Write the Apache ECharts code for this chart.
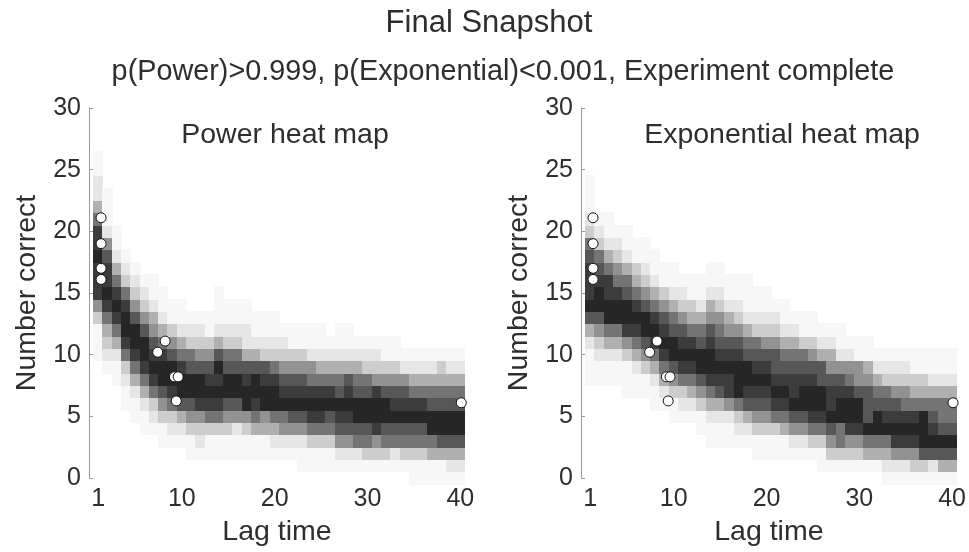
<!DOCTYPE html>
<html>
<head>
<meta charset="utf-8">
<title>Final Snapshot</title>
<script src="https://cdn.jsdelivr.net/npm/echarts@6/dist/echarts.min.js"></script>
<style>
  html, body { margin: 0; padding: 0; background: #fff; }
  #chart { width: 969px; height: 552px; }
</style>
</head>
<body>
<div id="chart"></div>
<script>
// x axis tick labels (lag time)
const lagTicks = [1, 10, 20, 30, 40]
// one entry per lag (1..40): [lowest "number correct" row, then darkness 0-9 going up]
const powerCols = [
  [10, 1, 1, 1, 3, 5, 8, 8, 8, 9, 8, 8, 6, 4, 2, 2, 1, 1],
  [9, 1, 2, 3, 4, 6, 8, 9, 8, 8, 7, 5, 2, 1, 1, 1],
  [8, 1, 1, 2, 4, 6, 8, 9, 8, 6, 4, 2, 1, 1],
  [6, 1, 1, 2, 3, 6, 8, 9, 9, 8, 6, 3, 2, 1],
  [5, 1, 1, 2, 4, 6, 8, 9, 9, 7, 5, 3, 2, 1],
  [4, 1, 1, 2, 4, 6, 8, 9, 9, 7, 5, 3, 2, 1],
  [4, 1, 2, 3, 6, 8, 9, 8, 7, 5, 4, 2, 1, 1],
  [3, 1, 1, 3, 5, 7, 9, 9, 8, 6, 4, 2, 1, 1],
  [3, 1, 2, 3, 6, 8, 9, 9, 7, 5, 3, 1, 1],
  [3, 1, 2, 4, 7, 9, 9, 8, 6, 4, 2, 1, 1],
  [2, 1, 1, 3, 5, 7, 9, 9, 7, 6, 3, 2, 1],
  [2, 1, 2, 3, 5, 8, 9, 9, 7, 5, 3, 2, 1],
  [2, 1, 1, 3, 6, 8, 9, 8, 7, 5, 3, 1, 1],
  [2, 1, 1, 3, 6, 8, 9, 8, 9, 7, 4, 2, 1, 1, 1],
  [2, 1, 1, 3, 5, 7, 9, 9, 7, 6, 3, 2, 1, 1],
  [2, 1, 1, 2, 5, 7, 9, 9, 7, 6, 3, 2, 1, 1],
  [2, 1, 1, 3, 5, 9, 9, 8, 7, 4, 2, 2, 1, 1],
  [2, 1, 1, 4, 6, 8, 9, 9, 7, 4, 2, 1, 1],
  [2, 1, 1, 4, 5, 9, 9, 8, 7, 3, 2, 1, 1],
  [2, 1, 2, 4, 6, 9, 9, 8, 6, 3, 2, 1, 1],
  [2, 1, 2, 5, 6, 9, 8, 7, 5, 3, 2, 1],
  [2, 1, 2, 5, 7, 9, 8, 7, 5, 3, 1, 1],
  [1, 1, 1, 2, 5, 7, 9, 8, 7, 5, 3, 1, 1],
  [1, 1, 1, 3, 6, 8, 9, 8, 6, 5, 2, 1, 1],
  [1, 1, 1, 3, 6, 8, 9, 8, 6, 4, 2, 1, 1],
  [1, 1, 1, 3, 6, 7, 9, 8, 6, 4, 2, 1],
  [1, 1, 2, 5, 7, 8, 9, 7, 6, 4, 2, 1, 1],
  [1, 1, 2, 5, 7, 8, 9, 8, 7, 4, 2, 1, 1],
  [1, 1, 2, 6, 7, 9, 9, 7, 6, 4, 2, 1],
  [1, 1, 3, 6, 7, 9, 9, 7, 6, 3, 2, 1],
  [1, 1, 3, 5, 8, 9, 9, 8, 5, 3, 2, 1],
  [1, 1, 3, 6, 7, 9, 9, 7, 5, 3, 1, 1],
  [1, 1, 2, 6, 7, 9, 8, 7, 5, 3, 1, 1],
  [1, 1, 3, 6, 7, 9, 8, 7, 5, 2, 1],
  [0, 1, 1, 3, 6, 7, 9, 8, 6, 4, 2, 1],
  [0, 1, 1, 3, 6, 7, 9, 8, 6, 4, 2, 1],
  [0, 1, 1, 4, 6, 9, 9, 7, 6, 4, 2, 1],
  [0, 1, 1, 4, 7, 9, 9, 7, 6, 4, 3, 1],
  [0, 1, 2, 4, 7, 9, 9, 7, 6, 4, 2, 1],
  [0, 1, 2, 4, 7, 9, 9, 7, 6, 4, 2, 1]
]
const expCols = [
  [8, 1, 1, 1, 2, 4, 7, 9, 8, 8, 8, 7, 6, 3, 2, 1, 1, 1],
  [8, 1, 1, 2, 3, 5, 7, 9, 9, 8, 7, 6, 3, 2, 1],
  [8, 1, 1, 2, 4, 6, 9, 9, 8, 8, 6, 4, 2, 1, 1],
  [8, 1, 1, 2, 4, 6, 9, 9, 8, 6, 5, 3, 2, 1],
  [7, 1, 1, 1, 3, 5, 8, 9, 9, 7, 6, 4, 2, 1, 1],
  [7, 1, 1, 2, 4, 6, 8, 9, 8, 6, 4, 3, 1, 1],
  [7, 1, 1, 3, 5, 7, 9, 9, 7, 5, 3, 2, 1, 1],
  [6, 1, 1, 2, 4, 6, 8, 9, 8, 6, 4, 2, 1, 1],
  [6, 1, 2, 4, 6, 8, 9, 8, 7, 5, 3, 1, 1],
  [5, 1, 1, 3, 5, 7, 9, 9, 7, 6, 4, 2, 1, 1],
  [5, 1, 2, 3, 6, 8, 9, 8, 7, 5, 3, 2, 1],
  [5, 1, 2, 4, 6, 8, 9, 8, 6, 4, 3, 1, 1],
  [4, 1, 1, 3, 5, 7, 9, 9, 7, 6, 4, 2, 1, 1],
  [3, 1, 1, 2, 4, 6, 8, 9, 9, 8, 7, 5, 4, 2, 1, 1],
  [3, 1, 1, 2, 4, 7, 8, 9, 8, 7, 6, 5, 3, 2, 1, 1],
  [3, 1, 1, 2, 5, 8, 8, 9, 8, 7, 5, 4, 2, 1, 1],
  [3, 1, 2, 3, 6, 9, 9, 9, 8, 7, 5, 3, 2, 1, 1],
  [3, 1, 2, 4, 7, 8, 9, 9, 7, 6, 4, 2, 1, 1, 1],
  [2, 1, 1, 3, 5, 7, 8, 9, 8, 7, 6, 3, 2, 1, 1],
  [2, 1, 1, 3, 5, 7, 8, 9, 8, 7, 5, 3, 2, 1, 1],
  [2, 1, 1, 3, 6, 8, 9, 8, 7, 7, 5, 3, 2, 1],
  [2, 1, 1, 4, 6, 8, 9, 8, 7, 6, 4, 2, 1, 1],
  [2, 1, 2, 5, 7, 9, 8, 8, 7, 6, 4, 2, 1],
  [2, 1, 2, 5, 7, 9, 9, 8, 7, 6, 3, 1, 1],
  [2, 1, 3, 6, 8, 9, 9, 8, 7, 5, 3, 1, 1],
  [1, 1, 1, 3, 6, 8, 9, 9, 7, 7, 4, 2, 1],
  [1, 1, 3, 5, 7, 9, 8, 8, 7, 5, 4, 2, 1],
  [1, 1, 3, 6, 6, 9, 9, 8, 7, 5, 2, 1, 1],
  [1, 1, 3, 5, 8, 9, 9, 8, 6, 5, 2, 1],
  [1, 1, 3, 5, 8, 9, 9, 7, 5, 5, 1, 1],
  [1, 1, 4, 6, 9, 7, 7, 7, 5, 4, 1, 1],
  [1, 1, 4, 6, 9, 9, 7, 6, 4, 2, 1],
  [0, 1, 2, 4, 6, 9, 8, 7, 6, 3, 2, 1],
  [0, 1, 2, 5, 8, 9, 8, 7, 5, 3, 2, 1],
  [0, 1, 2, 5, 8, 9, 8, 6, 5, 3, 2, 1],
  [0, 1, 3, 5, 8, 9, 8, 6, 4, 3, 1, 1],
  [0, 1, 3, 7, 9, 9, 9, 6, 4, 3, 1, 1],
  [0, 1, 2, 7, 9, 8, 7, 6, 4, 2, 1, 1],
  [0, 1, 4, 7, 9, 7, 6, 6, 4, 2, 1, 1],
  [0, 1, 4, 7, 9, 7, 6, 6, 4, 2, 1, 1]
]
// observed results (white circles), same in both panels
const obsLag = [1.3, 1.3, 1.3, 1.3, 7.4, 8.2, 9.2, 9.6, 9.4, 40.1]
const obsCorrect = [21.1, 19.0, 17.0, 16.1, 10.2, 11.1, 8.2, 8.2, 6.25, 6.1]

const FONT = '"Liberation Sans", Arial, Helvetica, sans-serif'
const TEXT = '#2e2e2e'

// 把列数据展开成 [lag, number, level]
function toCells (cols) {
  const cells = []
  cols.forEach((col, i) => {
    const start = col[0]
    col.slice(1).forEach((level, k) => {
      if (level > 0) cells.push([i + 1, start + k, level])
    })
  })
  return cells
}

// 每个格子占 1 x 1 个数据单位
function renderCell (params, api) {
  const lag = api.value(0)
  const n = api.value(1)
  const tl = api.coord([lag - 0.5, n + 0.5])
  const br = api.coord([lag + 0.5, n - 0.5])
  const x = Math.floor(tl[0])
  const y = Math.floor(tl[1])
  return {
    type: 'rect',
    shape: { x: x, y: y, width: Math.ceil(br[0]) - x, height: Math.ceil(br[1]) - y },
    style: { fill: api.visual('color') }
  }
}

const points = obsLag.map((l, i) => [l, obsCorrect[i]])

function xAxis (idx) {
  return {
    gridIndex: idx,
    type: 'value',
    min: 0,
    max: 40.5,
    name: 'Lag time',
    nameLocation: 'middle',
    nameGap: 40,
    nameTextStyle: { fontSize: 28.5, color: TEXT, fontFamily: FONT },
    axisLine: { show: false },
    axisTick: { show: false },
    splitLine: { show: false },
    axisLabel: { customValues: lagTicks, fontSize: 25, color: TEXT, fontFamily: FONT, margin: 9 }
  }
}

function yAxis (idx) {
  return {
    gridIndex: idx,
    type: 'value',
    min: 0,
    max: 30,
    interval: 5,
    name: 'Number correct',
    nameLocation: 'middle',
    nameGap: 47,
    nameTextStyle: { fontSize: 28.5, color: TEXT, fontFamily: FONT },
    axisLine: { show: true, lineStyle: { color: '#999', width: 1 } },
    axisTick: { show: true, inside: true, length: 4, lineStyle: { color: '#999' } },
    splitLine: { show: false },
    axisLabel: { fontSize: 25, color: TEXT, fontFamily: FONT, margin: 8 }
  }
}

function circles (idx) {
  return {
    type: 'scatter',
    xAxisIndex: idx,
    yAxisIndex: idx,
    data: points,
    symbol: 'circle',
    symbolSize: 10,
    z: 5,
    itemStyle: { color: '#fff', borderColor: '#111', borderWidth: 1, opacity: 1 }
  }
}

const chart = echarts.init(document.getElementById('chart'), null, { renderer: 'canvas' })
chart.setOption({
  animation: false,
  backgroundColor: '#fff',
  title: [
    { text: 'Final Snapshot', left: 484, top: 3, textAlign: 'center', textStyle: { fontSize: 31, fontWeight: 'normal', color: TEXT, fontFamily: FONT } },
    { text: 'p(Power)>0.999, p(Exponential)<0.001, Experiment complete', left: 498, top: 53, textAlign: 'center', textStyle: { fontSize: 28.8, fontWeight: 'normal', color: TEXT, fontFamily: FONT } },
    { text: 'Power heat map', left: 280, top: 116, textAlign: 'center', textStyle: { fontSize: 28.5, fontWeight: 'normal', color: TEXT, fontFamily: FONT } },
    { text: 'Exponential heat map', left: 777, top: 116, textAlign: 'center', textStyle: { fontSize: 28.5, fontWeight: 'normal', color: TEXT, fontFamily: FONT } }
  ],
  grid: [
    { left: 89, top: 108, width: 376, height: 370 },
    { left: 581, top: 108, width: 377, height: 370 }
  ],
  xAxis: [xAxis(0), xAxis(1)],
  yAxis: [yAxis(0), yAxis(1)],
  visualMap: {
    show: false,
    type: 'continuous',
    min: 0,
    max: 9,
    dimension: 2,
    seriesIndex: [0, 2],
    inRange: {
      color: ['#ffffff', '#f7f7f7', '#e6e6e6', '#cdcdcd', '#b0b0b0', '#929292', '#747474', '#575757', '#3c3c3c', '#262626']
    }
  },
  series: [
    { type: 'custom', xAxisIndex: 0, yAxisIndex: 0, clip: false, renderItem: renderCell, data: toCells(powerCols) },
    circles(0),
    { type: 'custom', xAxisIndex: 1, yAxisIndex: 1, clip: false, renderItem: renderCell, data: toCells(expCols) },
    circles(1)
  ]
})
</script>
</body>
</html>
